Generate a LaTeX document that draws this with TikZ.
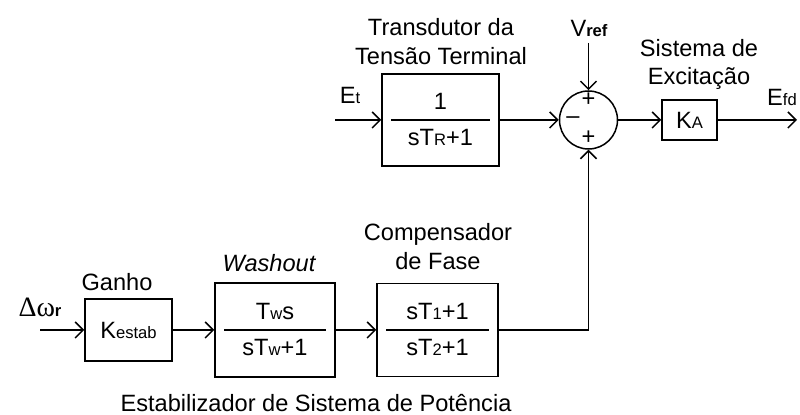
\documentclass[tikz,border=0pt]{standalone}
\usepackage{fontspec}
\setmainfont{Liberation Sans}
\newfontfamily\grkfont{Liberation Serif}
\usetikzlibrary{arrows.meta, positioning}

% small letters on the baseline, as in K_A, T_R
\newcommand{\lo}[1]{{\fontsize{8.3}{9}\selectfont #1}}

\begin{document}
\begin{tikzpicture}[x=0.5pt, y=-0.5pt, >={Straight Barb[length=4pt, width=8pt]},
    line width=0.75pt, font=\fontsize{11.8}{14.5}\selectfont,
    blk/.style={draw, inner sep=0pt},
    lbl/.style={align=center, inner sep=0pt},
    fracline/.style={line width=0.75pt}]

    \useasboundingbox (0,0) rectangle (800,415);

    % UPPER LOOP: transducer, summing point, exciter
    \node[blk, minimum width=58.5pt, minimum height=46pt] (tr) at (440.5,120) {};
    \node[draw, circle, minimum size=29pt, inner sep=0pt] (sum) at (588.5,120) {};
    \node[blk, minimum width=27.5pt, minimum height=20pt] (ka) at (689.5,120) {K\lo{A}};

    \coordinate (et) at (335,120);
    \coordinate (efd) at (797,120);
    \coordinate (vref) at (588.5,43);

    % LOWER CHAIN: stabiliser blocks
    \node[blk, minimum width=43.5pt, minimum height=31pt] (kst) at (128.5,330) {K\lo{estab}};
    \node[blk, minimum width=60pt, minimum height=47pt] (wo) at (275,330) {};
    \node[blk, minimum width=60.5pt, minimum height=46.5pt] (comp) at (437.5,330) {};

    \coordinate (dw) at (40,330);
    \coordinate (crn) at (588.5,330);

    % Fractions inside the blocks
    \foreach \b/\num/\den in {tr/1/sT\lo{R}+1, wo/T\lo{w}s/sT\lo{w}+1, comp/sT\lo{1}+1/sT\lo{2}+1} {
        \draw[fracline] ([xshift=5pt]\b.west) -- ([xshift=-5pt]\b.east);
        \node[above=5pt, inner sep=0pt] at (\b.center) {\num};
        \node[below=4.5pt, inner sep=0pt] at (\b.center) {\den};
    }

    % Signs of the summing point
    \node[inner sep=0pt] at (588.5,100) {+};
    \node[inner sep=0pt] at (573,120) {\textendash};
    \node[inner sep=0pt] at (588.5,138) {+};

    % Connectors
    \draw[->] (et) -- (tr.west);
    \draw[->] (tr.east) -- (sum.west);
    \draw[->] (vref) -- (sum.north);
    \draw[->] (sum.east) -- (ka.west);
    \draw[->] (ka.east) -- (efd);
    \draw[->] (dw) -- (kst.west);
    \draw[->] (kst.east) -- (wo.west);
    \draw[->] (wo.east) -- (comp.west);
    \draw[->] (comp.east) -- (crn) -- (sum.south);

    % Labels
    \node[lbl] at (441,42) {Transdutor da\\Tensão Terminal};
    \node[lbl] at (589,28) {V\lo{\bfseries ref}};
    \node[lbl, font=\fontsize{11.8}{14}\selectfont] at (699,64) {Sistema de\\Excitação};
    \node[lbl] at (350,95) {E\lo{t}};
    \node[lbl] at (782,97) {E\lo{fd}};
    \node[lbl] at (117,282) {Ganho};
    \node[lbl] at (40,307) {{\grkfont\fontsize{14}{16}\selectfont Δω}\lo{\bfseries r}};
    \node[lbl] at (269,263) {\itshape Washout};
    \node[lbl] at (438,246.5) {Compensador\\de Fase};
    \node[lbl] at (316,403) {Estabilizador de Sistema de Potência};

\end{tikzpicture}
\end{document}
